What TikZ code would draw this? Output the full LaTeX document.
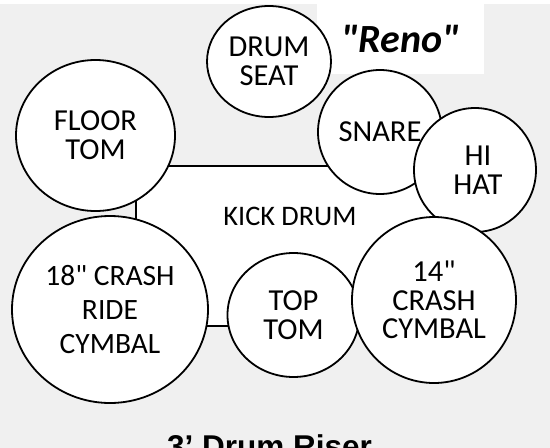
\documentclass[tikz,border=0pt]{standalone}
\usepackage{fontspec}
\setmainfont{Carlito}[Ligatures=TeXOff]
\newfontfamily\riserfont{Liberation Sans}
\usetikzlibrary{shapes.geometric}
\definecolor{risergray}{RGB}{240,240,240}

\begin{document}
\begin{tikzpicture}[
    x=1pt, y=-1pt,
    font=\fontsize{30.5}{28.8}\selectfont,
    drum/.style={draw, ellipse, line width=1.8pt, fill=white, align=center,
        inner sep=0pt},
    kickbox/.style={draw, rectangle, line width=1.8pt, fill=white, inner sep=0pt,
        minimum width=304pt, minimum height=160pt},
    namebox/.style={fill=white, inner sep=0pt, minimum width=167pt,
        minimum height=70pt, font=\fontsize{40}{40}\selectfont\bfseries\itshape},
    riserlabel/.style={anchor=base, font=\riserfont\fontsize{31.5}{31.5}\selectfont\bfseries}
]
\useasboundingbox (0,0) rectangle (550,448);
\clip (0,0) rectangle (550,448);
\fill[risergray] (0,4) rectangle (550,448);

% band name and kick drum behind everything
\node[namebox] (band) at (400.5,39) {"Reno"};
\node[kickbox] (kick) at (288,246) {};
\node[font=\fontsize{28.3}{28.3}\selectfont] (kicklabel) at (290,216) {KICK DRUM};

% top row
\node[drum, minimum width=124pt, minimum height=111pt] (seat) at (269,61.5) {DRUM\\SEAT};
\node[drum, minimum width=159pt, minimum height=151pt] (floortom) at (95.5,135.5) {FLOOR\\TOM};
\node[drum, minimum width=124pt, minimum height=124pt] (snare) at (380,132) {SNARE};
\node[drum, minimum width=122pt, minimum height=124pt] (hihat) at (475,170)
    {\hspace*{6pt}HI\\\hspace*{6pt}HAT};

% bottom row: cymbals and top tom
\node[drum, minimum width=196pt, minimum height=187pt, font=\fontsize{29.5}{34}\selectfont]
    (ride) at (110,309.5) {18" CRASH\\RIDE\\CYMBAL};
\node[drum, minimum width=132pt, minimum height=124pt] (toptom) at (293.5,315) {TOP\\TOM};
\node[drum, minimum width=164pt, minimum height=166pt] (crash) at (434,300) {14"\\CRASH\\CYMBAL};

\node[riserlabel] (riser) at (269.5,457) {3’ Drum Riser};
\end{tikzpicture}
\end{document}
